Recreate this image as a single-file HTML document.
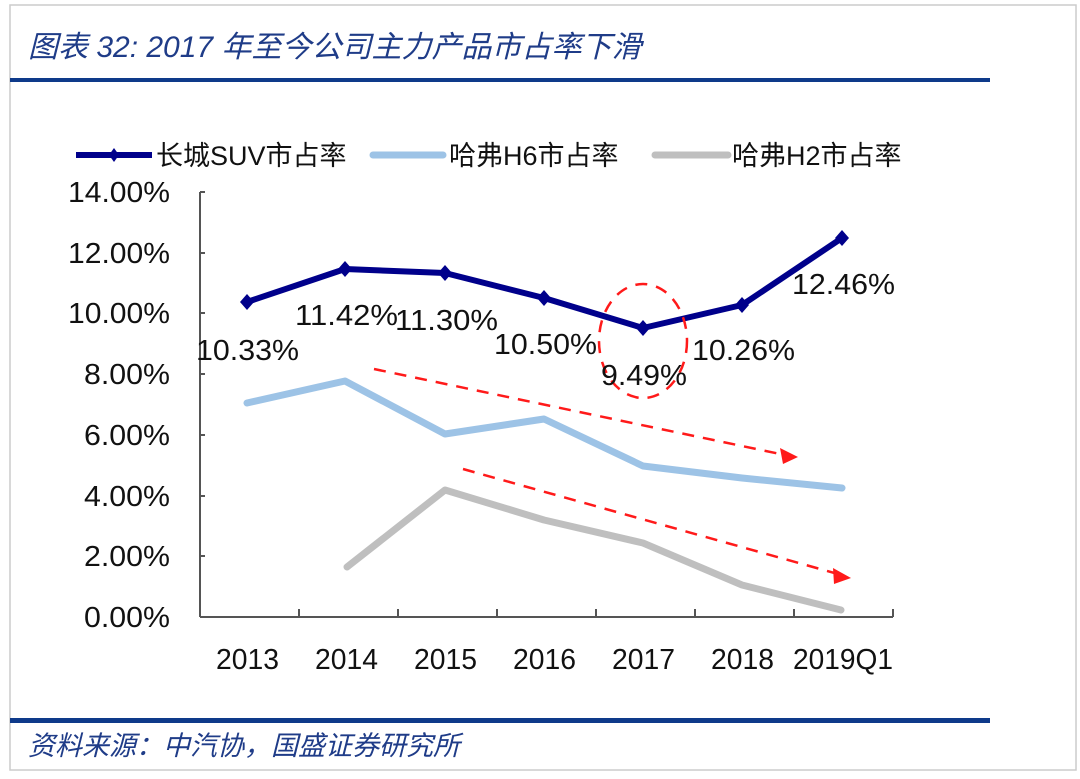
<!DOCTYPE html>
<html><head><meta charset="utf-8"><style>
body{margin:0;background:#fff;}
svg{display:block;}
text{font-family:"Liberation Sans","Noto Sans CJK SC",sans-serif;fill:#111;}
</style></head><body>
<svg width="1080" height="779" viewBox="0 0 1080 779" xmlns="http://www.w3.org/2000/svg">
<rect x="10" y="5" width="1066" height="765" fill="#fff" stroke="#ccc" stroke-width="1.5"/>
<text x="28" y="57" font-size="30" font-style="italic" style="fill:#1f3c88" font-family="'Liberation Serif','Noto Serif CJK SC',serif">图表 32:  2017 年至今公司主力产品市占率下滑</text>
<rect x="10" y="78" width="980" height="4" fill="#0e3a8a"/>
<rect x="10" y="718" width="980" height="5" fill="#0e3a8a"/>
<text x="28" y="755" font-size="27" font-style="italic" style="fill:#1f3c88" font-family="'Liberation Serif','Noto Serif CJK SC',serif">资料来源：中汽协，国盛证券研究所</text>

<!-- legend -->
<line x1="76" y1="155" x2="152" y2="155" stroke="#00008b" stroke-width="6"/>
<polygon points="114,148 119,155 114,162 109,155" fill="#00008b"/>
<text x="156" y="165" font-size="27">长城SUV市占率</text>
<line x1="373" y1="155" x2="443" y2="155" stroke="#9dc3e6" stroke-width="7" stroke-linecap="round"/>
<text x="449" y="165" font-size="27">哈弗H6市占率</text>
<line x1="655" y1="155" x2="728" y2="155" stroke="#bfbfbf" stroke-width="7" stroke-linecap="round"/>
<text x="732" y="165" font-size="27">哈弗H2市占率</text>

<!-- axes -->
<g stroke="#555" stroke-width="2" fill="none">
<line x1="200" y1="192" x2="200" y2="617"/>
<line x1="200" y1="617" x2="893" y2="617"/>
<line x1="200" y1="192" x2="205" y2="192"/>
<line x1="200" y1="253" x2="205" y2="253"/>
<line x1="200" y1="313" x2="205" y2="313"/>
<line x1="200" y1="374" x2="205" y2="374"/>
<line x1="200" y1="435" x2="205" y2="435"/>
<line x1="200" y1="496" x2="205" y2="496"/>
<line x1="200" y1="556" x2="205" y2="556"/>
<line x1="299" y1="617" x2="299" y2="609"/>
<line x1="398" y1="617" x2="398" y2="609"/>
<line x1="497" y1="617" x2="497" y2="609"/>
<line x1="596" y1="617" x2="596" y2="609"/>
<line x1="695" y1="617" x2="695" y2="609"/>
<line x1="794" y1="617" x2="794" y2="609"/>
<line x1="893" y1="617" x2="893" y2="609"/>
</g>
<g font-size="29">
<text x="68" y="202" textLength="102" lengthAdjust="spacingAndGlyphs">14.00%</text>
<text x="68" y="263" textLength="102" lengthAdjust="spacingAndGlyphs">12.00%</text>
<text x="68" y="323" textLength="102" lengthAdjust="spacingAndGlyphs">10.00%</text>
<text x="84" y="384" textLength="86" lengthAdjust="spacingAndGlyphs">8.00%</text>
<text x="84" y="445" textLength="86" lengthAdjust="spacingAndGlyphs">6.00%</text>
<text x="84" y="506" textLength="86" lengthAdjust="spacingAndGlyphs">4.00%</text>
<text x="84" y="566" textLength="86" lengthAdjust="spacingAndGlyphs">2.00%</text>
<text x="84" y="627" textLength="86" lengthAdjust="spacingAndGlyphs">0.00%</text>
</g>
<g font-size="29">
<text x="216" y="669" textLength="63" lengthAdjust="spacingAndGlyphs">2013</text>
<text x="315" y="669" textLength="63" lengthAdjust="spacingAndGlyphs">2014</text>
<text x="414" y="669" textLength="63" lengthAdjust="spacingAndGlyphs">2015</text>
<text x="513" y="669" textLength="63" lengthAdjust="spacingAndGlyphs">2016</text>
<text x="612" y="669" textLength="63" lengthAdjust="spacingAndGlyphs">2017</text>
<text x="711" y="669" textLength="63" lengthAdjust="spacingAndGlyphs">2018</text>
<text x="793" y="669" textLength="100" lengthAdjust="spacingAndGlyphs">2019Q1</text>
</g>

<!-- series -->
<polyline points="248,567 346,490 445,520 544,543 643,585 742,610" transform="translate(99,0)" fill="none" stroke="#bfbfbf" stroke-width="7" stroke-linejoin="round" stroke-linecap="round"/>
<polyline points="247,403 345,381 445,434 544,419 643,466 742,478 842,488" fill="none" stroke="#9dc3e6" stroke-width="7" stroke-linejoin="round" stroke-linecap="round"/>
<polyline points="247,302 345,269 445,273 544,298 643,328 742,305 842,238" fill="none" stroke="#00008b" stroke-width="6" stroke-linejoin="round"/>
<g fill="#00008b">
<polygon points="247,294 254,302 247,310 240,302"/>
<polygon points="345,261 352,269 345,277 338,269"/>
<polygon points="445,265 452,273 445,281 438,273"/>
<polygon points="544,290 551,298 544,306 537,298"/>
<polygon points="643,320 650,328 643,336 636,328"/>
<polygon points="742,297 749,305 742,313 735,305"/>
<polygon points="842,230 849,238 842,246 835,238"/>
</g>

<!-- arrows -->
<g stroke="#ff1a1a" stroke-width="2.5" stroke-dasharray="12,9" fill="none">
<line x1="374" y1="369" x2="785" y2="455"/>
<line x1="463" y1="469" x2="838" y2="574"/>
<ellipse cx="643" cy="341" rx="44" ry="57"/>
</g>
<polygon points="798,457 780,448 783,464" fill="#ff1a1a"/>
<polygon points="851,578 833,568 834,584" fill="#ff1a1a"/>

<!-- labels -->
<g font-size="29">
<text x="196" y="360" textLength="103" lengthAdjust="spacingAndGlyphs">10.33%</text>
<text x="295" y="325" textLength="103" lengthAdjust="spacingAndGlyphs">11.42%</text>
<text x="395" y="330" textLength="103" lengthAdjust="spacingAndGlyphs">11.30%</text>
<text x="494" y="354" textLength="103" lengthAdjust="spacingAndGlyphs">10.50%</text>
<text x="601" y="385" textLength="86" lengthAdjust="spacingAndGlyphs">9.49%</text>
<text x="692" y="360" textLength="103" lengthAdjust="spacingAndGlyphs">10.26%</text>
<text x="792" y="294" textLength="103" lengthAdjust="spacingAndGlyphs">12.46%</text>
</g>
</svg>
</body></html>
